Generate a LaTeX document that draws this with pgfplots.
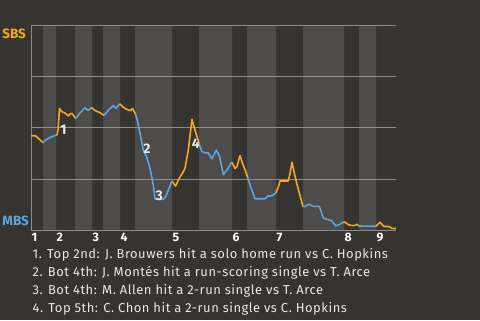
\documentclass[border=0pt]{standalone}
\usepackage{fontspec}
\setmainfont{Fira Sans}
\usepackage{pgfplots}
\pgfplotsset{compat=1.18}
\definecolor{bgc}{HTML}{363430}
\definecolor{bandc}{HTML}{4E4C4A}
\definecolor{gridc}{HTML}{8E8C8A}
\definecolor{sbs}{HTML}{F5A623}
\definecolor{mbs}{HTML}{5BA4DE}
\definecolor{txt}{HTML}{E8E8E8}
\pagecolor{bgc}
\begin{document}
\begin{tikzpicture}[x=1bp,y=1bp]
\path (0,0) rectangle (480,320);
\begin{axis}[set layers, at={(31bp,90bp)}, anchor=south west, scale only axis,
  width=365bp, height=204bp, xmin=31, xmax=396, ymin=0, ymax=204,
  axis x line*=bottom, axis y line*=left,
  axis line style={draw=gridc, line width=1bp, -},
  ytick={51,102,153,204}, yticklabels={}, ymajorgrids,
  grid style={gridc, line width=1bp},
  xtick={31,56,92,120,172,232,276,344,376},
  xticklabels={1,2,3,4,5,6,7,8,9},
  major tick length=0pt,
  xticklabel style={anchor=north west, inner sep=0pt, font=\bfseries\fontsize{12.3}{12.3}\selectfont, text=white, yshift=-3bp, xshift=0.5bp},
  /pgf/number format/assume math mode=true, clip=false]
\addplot[const plot, fill=bandc, draw=none, on layer=axis background] coordinates {
(31,0)(43,204)(56,0)(75,204)(92,0)(103,204)(120,0)(135,204)(172,0)(199,204)(232,0)(247,204)(276,0)(303,204)(344,0)(359,204)(376,0)(396,0)} \closedcycle;
\pgfplotsset{every axis plot/.append style={line width=1.6bp, line join=round}}
% Top 1
\addplot[sbs] coordinates {(31,94.3)(35.5,94.3)(39,91)(43,87.5)};
% Bot 1
\addplot[mbs] coordinates {(43,87.5)(45.5,90)(50,92.5)(55,94.5)(57,95)};
% Top 2
\addplot[sbs] coordinates {(57,95)(58,100)(59.5,121.5)(61.5,118.5)(65,117)(68.5,114)(70.5,116.5)(72.5,116)(74.5,113)(76,111.7)};
% Bot 2
\addplot[mbs] coordinates {(76,111.7)(80,117)(85,122.3)(88,119.5)(91.5,122.5)};
% Top 3
\addplot[sbs] coordinates {(91.5,122.5)(95,119.5)(100,117.3)(104,114.5)};
% Bot 3
\addplot[mbs] coordinates {(104,114.5)(109,120.5)(113.5,124.5)(116,121.7)(119.7,126.2)};
% Top 4
\addplot[sbs] coordinates {(119.7,126.2)(123,123)(126.5,120.7)(130.5,119.3)(132.5,121.5)(134,118.5)(135.5,116)};
% Bot 4
\addplot[mbs] coordinates {(135.5,116)(137.5,109)(140,96.7)(143.3,80)(146.7,73)(150,61.7)(153.3,45)(155,31)(158.3,30.7)(163.3,30.7)(165.7,33.3)(169,41.7)(172,49)};
% Top 5
\addplot[sbs] coordinates {(172,49)(175.5,44)(179.3,51.7)(183.3,58.3)(185,61.7)(188.3,80)(190.7,100)(192,110.7)(194,103.3)(196,96.7)(199,86.7)};
% Bot 5
\addplot[mbs] coordinates {(199,86.7)(201.7,79)(204,77.3)(208,77.3)(212,71.3)(216.3,80)(219.5,73.5)(223.3,55.5)(227,60)(231.7,68)};
% Top 6
\addplot[sbs] coordinates {(231.7,68)(235,61.5)(237,63.5)(240,74.5)(242.5,66.7)(245.5,59)(247.5,53)};
% Bot 6
\addplot[mbs] coordinates {(247.5,53)(250,45)(255,31.3)(265,31.3)(268.3,34.2)(271.7,34.2)(274,35.7)(276,37.3)};
% Top 7
\addplot[sbs] coordinates {(276,37.3)(278.3,43)(280,49)(288.3,49)(290,56.7)(292,67.7)(294,58.3)(296.7,46.7)(300,34.5)(303,23.3)};
% Bot 7
\addplot[mbs] coordinates {(303,23.3)(305,23.7)(309,25.7)(313.3,23.7)(319.3,23.7)(323.3,12)(326.7,10.7)(331.7,9.3)(335.7,4)(340,5.7)(344,8.3)};
% Top 8
\addplot[sbs] coordinates {(344,8.3)(349,5)(354,4.3)(356.7,5.7)(359,4)};
% Bot 8
\addplot[mbs] coordinates {(359,4)(376,3.7)};
% Top 9
\addplot[sbs] coordinates {(376,3.7)(380,7.7)(384,3.5)(389,3.5)(391.7,1.7)(396,1.5)};
\begin{scope}[every node/.style={font=\bfseries\fontsize{14}{14}\selectfont, text=txt, inner sep=0pt}]
\node at (axis cs:63.3,100.7) {1};
\node at (axis cs:147,81.7) {2};
\node at (axis cs:159.2,34) {3};
\node at (axis cs:195.7,86) {4};
\end{scope}
\end{axis}
\node[anchor=west, inner sep=0pt, font=\bfseries\fontsize{13.5}{13.5}\selectfont, text=sbs] at (2.3,286.5) {SBS};
\node[anchor=west, inner sep=0pt, font=\bfseries\fontsize{13.5}{13.5}\selectfont, text=mbs] at (2.3,99) {MBS};
\begin{scope}[every node/.style={anchor=base west, inner sep=0pt, font=\fontsize{13}{13}\selectfont\addfontfeatures{LetterSpace=4}, text=txt}]
\node at (32.5,61.7) {1. Top 2nd: J. Brouwers hit a solo home run vs C. Hopkins};
\node at (32.5,44) {2. Bot 4th: J. Montés hit a run-scoring single vs T. Arce};
\node at (32.5,26) {3. Bot 4th: M. Allen hit a 2-run single vs T. Arce};
\node at (32.5,8) {4. Top 5th: C. Chon hit a 2-run single vs C. Hopkins};
\end{scope}
\end{tikzpicture}
\end{document}
